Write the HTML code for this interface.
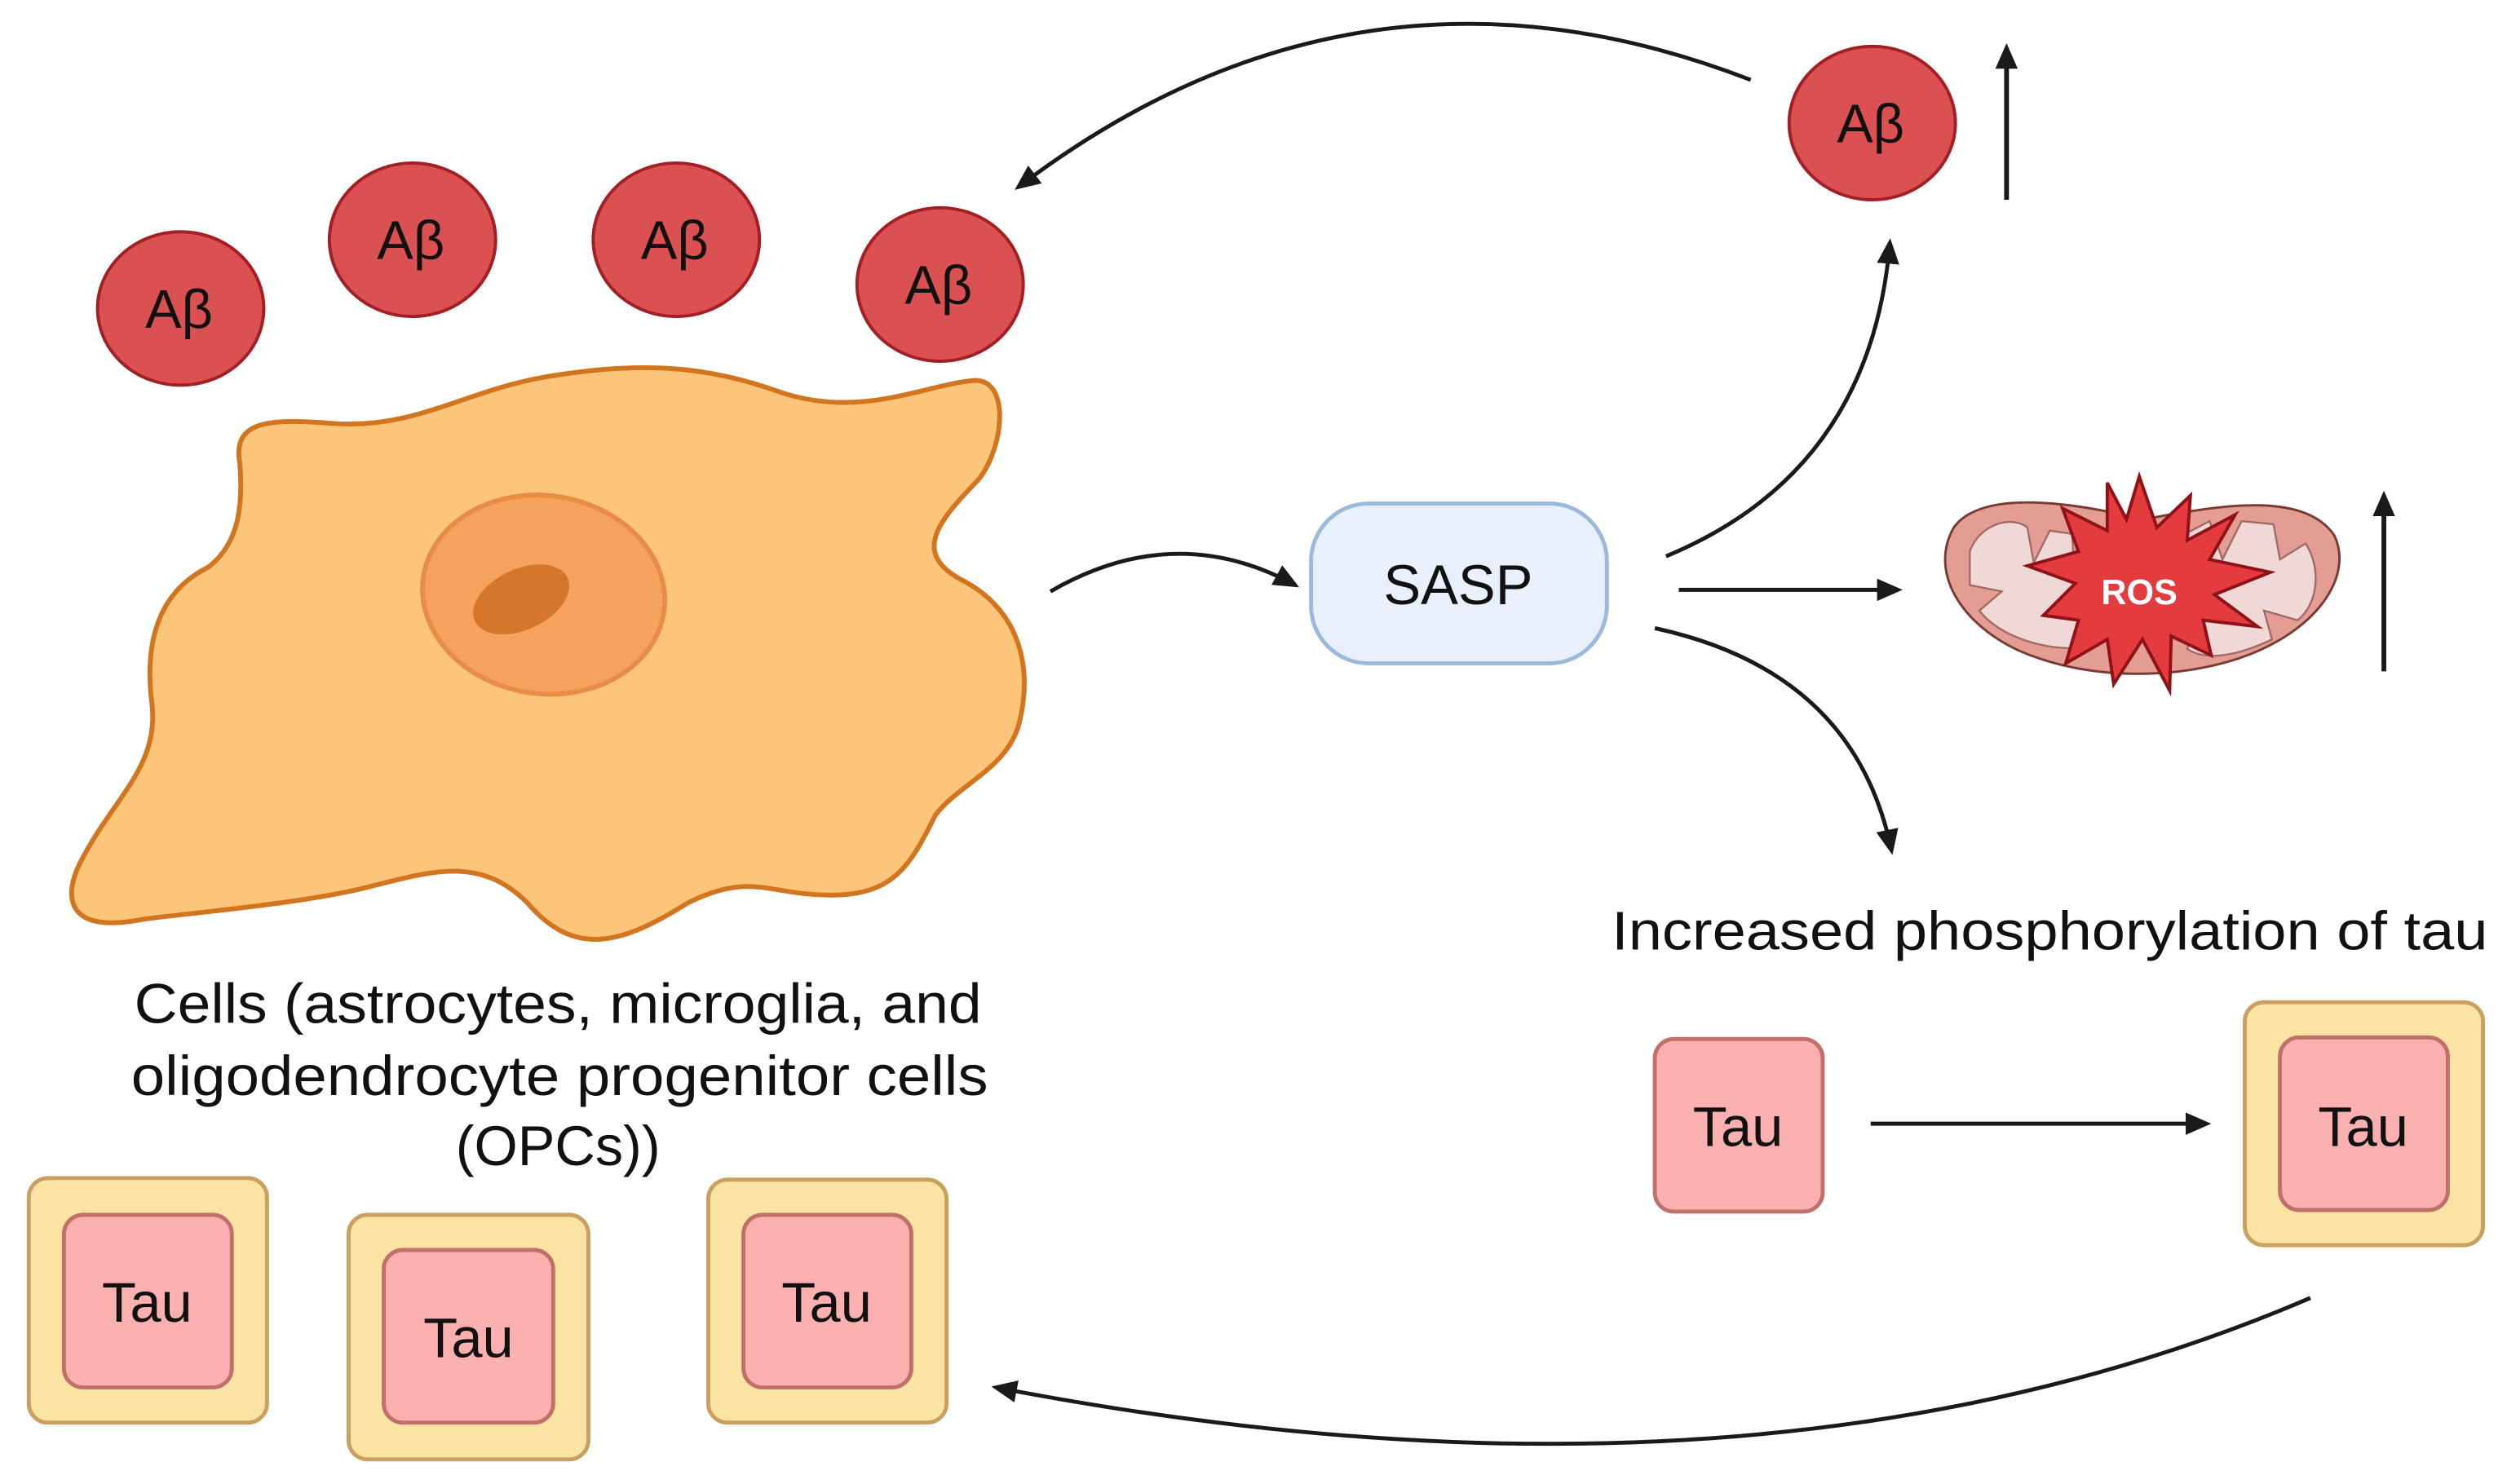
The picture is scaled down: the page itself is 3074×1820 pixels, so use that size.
<!DOCTYPE html>
<html><head><meta charset="utf-8"><style>
html,body{margin:0;padding:0;background:#fff;}
svg{display:block;}
text{font-family:"Liberation Sans",sans-serif;}
</style></head><body>
<svg width="3074" height="1820" viewBox="0 0 1568 928.4" preserveAspectRatio="none" xmlns="http://www.w3.org/2000/svg">
<defs>
<marker id="ah2" markerWidth="16" markerHeight="16" refX="13" refY="8" orient="auto" markerUnits="userSpaceOnUse" viewBox="0 0 16 16">
<path d="M0,1 L16,8 L0,15 z" fill="#1a1a1a"/></marker>
</defs>
<rect width="1568" height="928.4" fill="#fff"/>

<!-- cell -->
<path d="M150,290 C145,262 170,262 210,265 C260,268 290,245 340,236 C400,226 440,228 490,246 C540,262 580,240 610,238 C632,238 628,280 612,300 C588,325 570,345 600,362 C640,382 645,420 638,450 C632,480 600,490 585,510 C570,540 560,560 520,560 C480,560 470,545 430,565 C390,590 360,600 330,565 C300,535 270,545 230,555 C190,565 130,570 90,575 C40,585 40,560 50,540 C70,500 100,480 95,440 C90,400 100,370 130,355 C150,340 152,315 150,290 Z" fill="#fcc57a" stroke="#d3741f" stroke-width="3"/>
<ellipse cx="340" cy="372" rx="76" ry="62" transform="rotate(8 340 372)" fill="#f4a25d" stroke="#e88d45" stroke-width="3"/>
<ellipse cx="326" cy="375" rx="32" ry="19" transform="rotate(-25 326 375)" fill="#d4762c"/>

<!-- Abeta -->
<g fill="#db5151" stroke="#a21f25" stroke-width="2">
<ellipse cx="113" cy="193" rx="52" ry="48"/>
<ellipse cx="258" cy="150" rx="52" ry="48"/>
<ellipse cx="423" cy="150" rx="52" ry="48"/>
<ellipse cx="588" cy="178" rx="52" ry="48"/>
<ellipse cx="1171" cy="77" rx="52" ry="48"/>
</g>
<g font-size="34" fill="#111" text-anchor="middle">
<text x="112" y="205">Aβ</text>
<text x="257" y="162">Aβ</text>
<text x="422" y="162">Aβ</text>
<text x="587" y="190">Aβ</text>
<text x="1170" y="89">Aβ</text>
</g>

<!-- cell label -->
<g font-size="35" fill="#111">
<text x="84" y="640" textLength="530" lengthAdjust="spacingAndGlyphs">Cells (astrocytes, microglia, and</text>
<text x="82" y="685" textLength="536" lengthAdjust="spacingAndGlyphs">oligodendrocyte progenitor cells</text>
<text x="285" y="729" textLength="128" lengthAdjust="spacingAndGlyphs">(OPCs))</text>
</g>

<!-- Tau boxes -->
<g>
<rect x="18" y="737" width="149" height="153" rx="12" fill="#fbe3a3" stroke="#c9a060" stroke-width="2.5"/>
<rect x="40" y="760" width="105" height="108" rx="12" fill="#fbb0b0" stroke="#c07068" stroke-width="2.5"/>
<rect x="218" y="760" width="150" height="153" rx="12" fill="#fbe3a3" stroke="#c9a060" stroke-width="2.5"/>
<rect x="240" y="782" width="106" height="108" rx="12" fill="#fbb0b0" stroke="#c07068" stroke-width="2.5"/>
<rect x="443" y="738" width="149" height="152" rx="12" fill="#fbe3a3" stroke="#c9a060" stroke-width="2.5"/>
<rect x="465" y="760" width="105" height="108" rx="12" fill="#fbb0b0" stroke="#c07068" stroke-width="2.5"/>
<rect x="1404" y="627" width="149" height="152" rx="12" fill="#fbe3a3" stroke="#c9a060" stroke-width="2.5"/>
<rect x="1426" y="649" width="105" height="108" rx="12" fill="#fbb0b0" stroke="#c07068" stroke-width="2.5"/>
<rect x="1035" y="650" width="105" height="108" rx="12" fill="#fbb0b0" stroke="#c07068" stroke-width="2.5"/>
</g>
<g font-size="35" fill="#111" text-anchor="middle">
<text x="92" y="827">Tau</text>
<text x="293" y="849">Tau</text>
<text x="517" y="827">Tau</text>
<text x="1478" y="717">Tau</text>
<text x="1087" y="717">Tau</text>
</g>

<!-- SASP -->
<rect x="820" y="315" width="185" height="100" rx="36" fill="#e7f0fb" stroke="#9bb9dd" stroke-width="2.5"/>
<text x="912" y="378" font-size="35" fill="#111" text-anchor="middle">SASP</text>

<!-- mitochondrion -->
<path d="M1222,330 C1240,305 1300,315 1340,325 C1380,318 1440,305 1460,335 C1472,360 1450,395 1400,412 C1360,425 1310,425 1270,410 C1230,395 1205,360 1222,330 Z" fill="#e39d92" stroke="#7a3a34" stroke-width="1.5"/>
<g fill="#efd8d6" stroke="#a06a66" stroke-width="1.2">
<path d="M1232,345 C1238,328 1258,322 1268,330 L1272,352 L1282,332 L1296,334 L1298,368 L1312,356 L1320,380 L1305,405 C1280,408 1250,398 1238,382 L1252,370 L1232,366 Z"/>
<path d="M1365,335 L1382,326 L1390,350 L1402,326 L1422,328 L1426,350 L1442,340 C1452,355 1450,378 1437,388 L1416,382 L1421,400 C1400,410 1380,414 1368,406 L1374,386 L1358,390 Z"/>
</g>
<polygon points="1338,298 1349,330 1370,310 1368,338 1398,322 1382,350 1420,358 1385,372 1412,392 1378,388 1383,410 1358,398 1357,432 1340,400 1322,428 1318,400 1292,415 1300,388 1278,385 1298,365 1268,354 1300,345 1290,318 1318,332 1318,302 1330,325" fill="#e43b3e" stroke="#8e1218" stroke-width="2"/>
<text x="1338" y="378" font-size="22" font-weight="bold" fill="#fff" text-anchor="middle">ROS</text>

<!-- up arrows -->
<line x1="1255" y1="125" x2="1255" y2="30" stroke="#1a1a1a" stroke-width="3" marker-end="url(#ah2)"/>
<line x1="1491" y1="420" x2="1491" y2="310" stroke="#1a1a1a" stroke-width="3" marker-end="url(#ah2)"/>

<!-- connectors -->
<g fill="none" stroke="#1a1a1a" stroke-width="2.5">
<path d="M657,370 Q735,325 810,366" marker-end="url(#ah2)"/>
<path d="M1042,348 Q1170,295 1182,152" marker-end="url(#ah2)"/>
<path d="M1050,369 L1187,369" marker-end="url(#ah2)"/>
<path d="M1035,393 Q1160,420 1183,532" marker-end="url(#ah2)"/>
<path d="M1095,50 Q850,-45 637,117" marker-end="url(#ah2)"/>
<path d="M1445,812 Q1100,960 623,868" marker-end="url(#ah2)"/>
<path d="M1170,703 L1380,703" marker-end="url(#ah2)"/>
</g>

<text x="1008" y="594" font-size="34" fill="#111" textLength="548" lengthAdjust="spacingAndGlyphs">Increased phosphorylation of tau</text>
</svg>
</body></html>
